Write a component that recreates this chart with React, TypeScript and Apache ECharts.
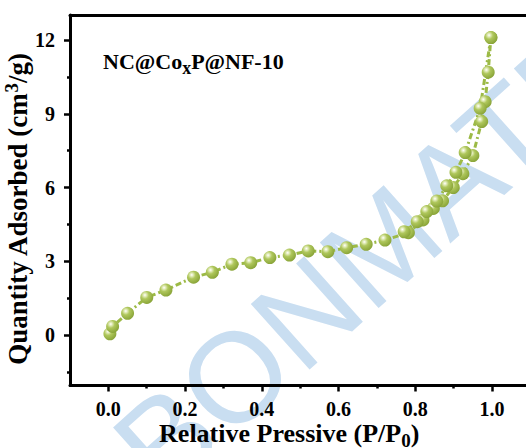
import React, { useEffect, useRef } from "react";
import * as echarts from "echarts";

// ---- data ----
const adsX = [0.004, 0.011, 0.05, 0.1, 0.15, 0.222, 0.271, 0.322, 0.371, 0.421, 0.472, 0.521, 0.572, 0.621, 0.672, 0.721, 0.782, 0.82, 0.847, 0.871, 0.899, 0.924, 0.95, 0.973, 0.982, 0.99, 0.997];
const adsY = [0.05, 0.35, 0.88, 1.53, 1.83, 2.35, 2.55, 2.88, 2.94, 3.15, 3.25, 3.42, 3.39, 3.55, 3.69, 3.86, 4.16, 4.68, 5.15, 5.46, 6.0, 6.56, 7.3, 8.68, 9.49, 10.69, 12.1];
const desX = [0.997, 0.969, 0.93, 0.906, 0.882, 0.856, 0.83, 0.805, 0.771];
const desY = [12.1, 9.22, 7.42, 6.62, 6.07, 5.45, 5.02, 4.61, 4.2];

const xTicks = [0, 0.2, 0.4, 0.6, 0.8, 1.0];
const xMinorTicks = [0.1, 0.3, 0.5, 0.7, 0.9];
const yTicks = [0, 3, 6, 9, 12];
const yMinorTicks = [-1.5, 1.5, 4.5, 7.5, 10.5];

const xMin = -0.1;
const xMax = 1.1;
const yMin = -2.054;
const yMax = 13.017;

const titleMain1 = "NC@Co";
const titleSub = "x";
const titleMain2 = "P@NF-10";
const xName1 = "Relative Pressive (P/P";
const xNameSub = "0";
const xName2 = ")";
const yName1 = "Quantity Adsorbed (cm";
const yNameSup = "3";
const yName2 = "/g)";
const watermarkText = "CARBONMATERIALS";

const SERIF = "Liberation Serif";

export default function App() {
  const ref = useRef<HTMLDivElement>(null);

  useEffect(() => {
    if (!ref.current) return;
    const chart = echarts.init(ref.current, undefined, { renderer: "svg" });

    const sphere = new echarts.graphic.RadialGradient(0.36, 0.32, 0.72, [
      { offset: 0, color: "#ffffff" },
      { offset: 0.16, color: "#e3ecbb" },
      { offset: 0.42, color: "#afc75c" },
      { offset: 1, color: "#87a236" },
    ]);
    const lineStyle = { color: "#9cba46", width: 3, type: [6, 3, 2, 3] as number[] };

    const angle = (41.8 * Math.PI) / 180;

    const axisText = { fontSize: 20, fontWeight: "bold", fontFamily: SERIF, color: "#000" };

    chart.setOption({
      animation: false,
      backgroundColor: "#fff",
      textStyle: { fontFamily: SERIF },
      grid: { left: 70, top: 15, right: -4.4, bottom: 62.5, containLabel: false, outerBoundsMode: "none" },
      graphic: [
        {
          type: "text",
          x: -67,
          y: 647,
          rotation: angle,
          z: -10,
          silent: true,
          style: {
            text: watermarkText,
            fontSize: 128,
            fontFamily: "Liberation Sans",
            fill: "#c9def1",
            align: "left",
            verticalAlign: "middle",
          },
        },
        {
          type: "text",
          left: 103,
          top: 50,
          z: 10,
          style: {
            text: `{m|${titleMain1}}{s|${titleSub}}{m|${titleMain2}}`,
            rich: {
              m: { fontSize: 22, fontWeight: "bold", fontFamily: SERIF, fill: "#000" },
              s: { fontSize: 18, fontWeight: "bold", fontFamily: SERIF, fill: "#000", padding: [14, 0, 0, 0] },
            },
          },
        },
      ],
      xAxis: [
        {
          type: "value",
          min: xMin,
          max: xMax,
          position: "bottom",
          axisLine: { show: true, onZero: false, lineStyle: { color: "#000", width: 3 } },
          axisTick: { show: true, inside: false, length: 6, customValues: xTicks, lineStyle: { color: "#000", width: 2.5 } },
          axisLabel: { ...axisText, customValues: xTicks, margin: 13, formatter: (v: number) => v.toFixed(1) },
          splitLine: { show: false },
          name: `{m|${xName1}}{s|${xNameSub}}{m|${xName2}}`,
          nameLocation: "middle",
          nameGap: 31,
          nameMoveOverlap: false,
          nameTextStyle: {
            fontFamily: SERIF,
            padding: [0, 22, 0, 0],
            rich: {
              m: { fontSize: 26, fontWeight: "bold", fontFamily: SERIF, color: "#000" },
              s: { fontSize: 19, fontWeight: "bold", fontFamily: SERIF, color: "#000", padding: [14, 0, 0, 0] },
            },
          },
        },
        {
          type: "value",
          min: xMin,
          max: xMax,
          position: "bottom",
          axisLine: { show: false, onZero: false },
          axisTick: { show: true, inside: false, length: 3, customValues: xMinorTicks, lineStyle: { color: "#000", width: 2.5 } },
          axisLabel: { show: false },
          splitLine: { show: false },
        },
        {
          type: "value",
          min: xMin,
          max: xMax,
          position: "top",
          axisLine: { show: true, onZero: false, lineStyle: { color: "#000", width: 3 } },
          axisTick: { show: false },
          axisLabel: { show: false },
          splitLine: { show: false },
        },
      ],
      yAxis: [
        {
          type: "value",
          min: yMin,
          max: yMax,
          position: "left",
          axisLine: { show: true, onZero: false, lineStyle: { color: "#000", width: 3 } },
          axisTick: { show: true, inside: false, length: 6, customValues: yTicks, lineStyle: { color: "#000", width: 2.5 } },
          axisLabel: { ...axisText, customValues: yTicks, margin: 15, formatter: (v: number) => String(Math.round(v)) },
          splitLine: { show: false },
          name: `{m|${yName1}}{s|${yNameSup}}{m|${yName2}}`,
          nameLocation: "middle",
          nameGap: 37,
          nameMoveOverlap: false,
          nameTextStyle: {
            fontFamily: SERIF,
            padding: [0, 18, 0, 0],
            rich: {
              m: { fontSize: 27, fontWeight: "bold", fontFamily: SERIF, color: "#000" },
              s: { fontSize: 19, fontWeight: "bold", fontFamily: SERIF, color: "#000", padding: [0, 0, 12, 0] },
            },
          },
        },
        {
          type: "value",
          min: yMin,
          max: yMax,
          position: "left",
          axisLine: { show: false, onZero: false },
          axisTick: { show: true, inside: false, length: 3, customValues: yMinorTicks, lineStyle: { color: "#000", width: 2.5 } },
          axisLabel: { show: false },
          splitLine: { show: false },
        },
      ],
      series: [
        {
          type: "line",
          name: "Adsorption",
          xAxisIndex: 0,
          yAxisIndex: 0,
          data: adsX.map((x, i) => [x, adsY[i]]),
          symbol: "circle",
          symbolSize: 13,
          itemStyle: { color: sphere },
          lineStyle,
          z: 3,
        },
        {
          type: "line",
          name: "Desorption",
          xAxisIndex: 0,
          yAxisIndex: 0,
          data: desX.map((x, i) => [x, desY[i]]),
          symbol: "circle",
          symbolSize: 13,
          itemStyle: { color: sphere },
          lineStyle,
          z: 3,
        },
      ],
    });

    return () => chart.dispose();
  }, []);

  return (
    <div
      ref={ref}
      style={{ position: "absolute", left: 0, top: 0, width: 526, height: 448, background: "#fff" }}
    />
  );
}
